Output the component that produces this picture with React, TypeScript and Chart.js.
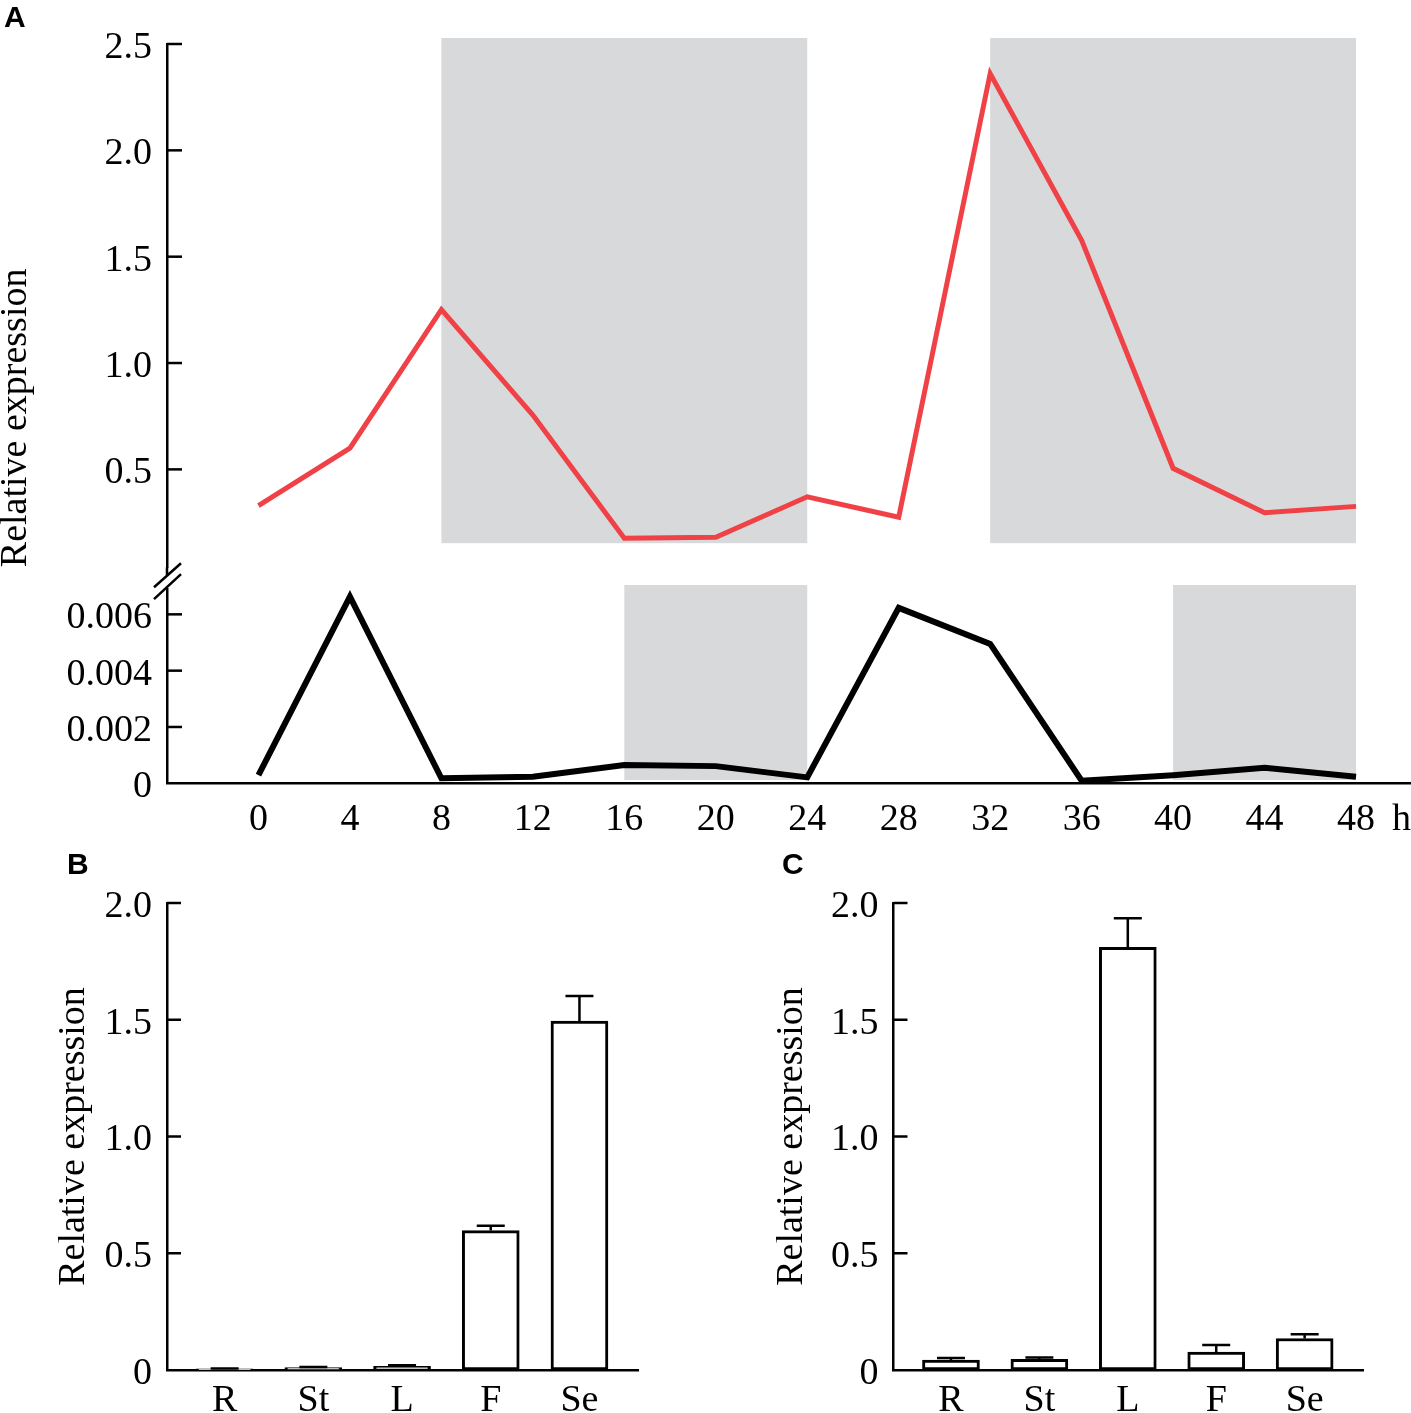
import { useEffect, useRef } from "react";
import Chart from "chart.js/auto";

// panel A: diurnal time course (h)
const hours = [0, 4, 8, 12, 16, 20, 24, 28, 32, 36, 40, 44, 48];
const redValues = [0.329, 0.6, 1.251, 0.755, 0.176, 0.181, 0.371, 0.275, 2.361, 1.577, 0.505, 0.296, 0.326];
const blackValues = [0.00029, 0.00663, 0.00018, 0.00023, 0.00065, 0.00061, 0.00021, 0.00623, 0.00495, 0.00009, 0.00029, 0.00055, 0.00023];
const darkTop = [[8, 24], [32, 48]];
const darkBottom = [[16, 24], [40, 48]];
const topTicks = [0.5, 1.0, 1.5, 2.0, 2.5];
const bottomTicks = [0, 0.002, 0.004, 0.006];

// panels B and C: tissues
const tissues = ["R", "St", "L", "F", "Se"];
const barTicks = [0, 0.5, 1.0, 1.5, 2.0];
const valuesB = [0.005, 0.01, 0.016, 0.597, 1.494];
const errorsB = [0.001, 0.003, 0.004, 0.021, 0.108];
const valuesC = [0.043, 0.046, 1.81, 0.077, 0.135];
const errorsC = [0.008, 0.008, 0.125, 0.03, 0.018];

const SERIF = "'Liberation Serif', 'Times New Roman', serif";
const RED = "#ef4146";
const GREY = "#d8d9db";
const AXIS_W = 2.5;

const tickFont = { family: SERIF, size: 38 };

const bandsPlugin = (bands, topOff, bottomOff) => ({
  id: "bands",
  beforeDatasetsDraw(chart) {
    const { ctx, chartArea } = chart;
    const xs = chart.scales.x;
    ctx.save();
    ctx.fillStyle = GREY;
    const y1 = chartArea.top - topOff;
    const y2 = chartArea.bottom - bottomOff;
    bands.forEach(([a, b]) => {
      const x1 = xs.getPixelForValue(a);
      const x2 = xs.getPixelForValue(b);
      ctx.fillRect(x1, y1, x2 - x1, y2 - y1);
    });
    ctx.restore();
  },
});

const innerTicks = (len) => ({
  id: "innerTicks",
  afterDraw(chart) {
    const { ctx, chartArea } = chart;
    const ys = chart.scales.y;
    ctx.save();
    ctx.strokeStyle = "#000";
    ctx.lineWidth = AXIS_W;
    ys.ticks.forEach((t) => {
      if (t.value === 0) return;
      const y = ys.getPixelForValue(t.value);
      ctx.beginPath();
      ctx.moveTo(chartArea.left, y);
      ctx.lineTo(chartArea.left + len, y);
      ctx.stroke();
    });
    ctx.restore();
  },
});

const breakMarks = {
  id: "breakMarks",
  afterDraw(chart) {
    const { ctx, chartArea } = chart;
    const l = chartArea.left;
    const b = chartArea.bottom;
    ctx.save();
    ctx.strokeStyle = "#000";
    ctx.lineWidth = AXIS_W;
    ctx.beginPath();
    ctx.moveTo(l, b);
    ctx.lineTo(l, b + 8);
    ctx.moveTo(l - 13, b + 20);
    ctx.lineTo(l + 14, b - 4);
    ctx.moveTo(l - 13, b + 32);
    ctx.lineTo(l + 14, b + 7);
    ctx.stroke();
    ctx.restore();
  },
};

const hourUnit = {
  id: "hourUnit",
  afterDraw(chart) {
    const xs = chart.scales.x;
    const { ctx } = chart;
    const items = xs.getLabelItems ? xs.getLabelItems() : [];
    const last = items[items.length - 1];
    if (!last) return;
    const [x, y] = last.options.translation;
    ctx.save();
    ctx.font = `38px ${SERIF}`;
    ctx.fillStyle = "#000";
    ctx.textAlign = "left";
    ctx.textBaseline = last.options.textBaseline || "middle";
    ctx.fillText("h", x + 36, y + (last.textOffset || 0));
    ctx.restore();
  },
};

const errorBars = (errors) => ({
  id: "errorBars",
  afterDatasetsDraw(chart) {
    const { ctx } = chart;
    const ys = chart.scales.y;
    const meta = chart.getDatasetMeta(0);
    ctx.save();
    ctx.strokeStyle = "#000";
    ctx.lineWidth = AXIS_W;
    meta.data.forEach((bar, i) => {
      const v = chart.data.datasets[0].data[i].y;
      const yTop = ys.getPixelForValue(v + errors[i]);
      const yBar = ys.getPixelForValue(v);
      ctx.beginPath();
      ctx.moveTo(bar.x, yBar);
      ctx.lineTo(bar.x, yTop);
      ctx.moveTo(bar.x - 14, yTop);
      ctx.lineTo(bar.x + 14, yTop);
      ctx.stroke();
    });
    ctx.restore();
  },
});

const baseOptions = {
  animation: false,
  responsive: false,
  devicePixelRatio: 1,
  events: [],
  plugins: { legend: { display: false }, tooltip: { enabled: false } },
};

const hourAxis = (display) => ({
  type: "linear",
  min: -4,
  max: 50.36,
  display,
  afterBuildTicks: (s) => {
    s.ticks = hours.map((h) => ({ value: h }));
  },
  afterFit: (s) => {
    s.height = display ? 60 : 0;
  },
  grid: { display: false, drawTicks: false },
  border: { display: true, color: "#000", width: AXIS_W },
  ticks: { color: "#000", font: tickFont, padding: 14, maxRotation: 0, autoSkip: false, callback: (v) => String(v) },
});

const topConfig = () => ({
  type: "line",
  data: {
    datasets: [
      {
        data: hours.map((h, i) => ({ x: h, y: redValues[i] })),
        borderColor: RED,
        borderWidth: 5,
        pointRadius: 0,
        tension: 0,
        borderJoinStyle: "miter",
      },
    ],
  },
  options: {
    ...baseOptions,
    layout: { padding: { top: 44, right: 1, bottom: 33, left: 0 } },
    scales: {
      x: hourAxis(false),
      y: {
        min: 0.04,
        max: 2.5,
        afterFit: (s) => {
          s.width = 167;
        },
        afterBuildTicks: (s) => {
          s.ticks = topTicks.map((v) => ({ value: v }));
        },
        grid: { display: false, drawTicks: false },
        border: { display: true, color: "#000", width: AXIS_W },
        ticks: { color: "#000", font: tickFont, padding: 15, labelOffset: 4, callback: (v) => Number(v).toFixed(1) },
        title: {
          display: true,
          text: "Relative expression",
          align: "start",
          color: "#000",
          font: { family: SERIF, size: 38, lineHeight: 1 },
          padding: { top: -3, bottom: 0 },
        },
      },
    },
  },
  plugins: [bandsPlugin(darkTop, 6, 24), innerTicks(15), breakMarks],
});

const bottomConfig = () => ({
  type: "line",
  data: {
    datasets: [
      {
        data: hours.map((h, i) => ({ x: h, y: blackValues[i] })),
        borderColor: "#000",
        borderWidth: 6,
        pointRadius: 0,
        tension: 0,
        borderJoinStyle: "miter",
      },
    ],
  },
  options: {
    ...baseOptions,
    layout: { padding: { top: 39, right: 1, bottom: 16.7, left: 0 } },
    scales: {
      x: hourAxis(true),
      y: {
        min: 0,
        max: 0.0069,
        afterFit: (s) => {
          s.width = 167;
        },
        afterBuildTicks: (s) => {
          s.ticks = bottomTicks.map((v) => ({ value: v }));
        },
        grid: { display: false, drawTicks: false },
        border: { display: true, color: "#000", width: AXIS_W },
        ticks: {
          color: "#000",
          font: tickFont,
          padding: 15,
          labelOffset: 4,
          callback: (v) => (v === 0 ? "0" : Number(v).toFixed(3)),
        },
      },
    },
  },
  plugins: [bandsPlugin(darkBottom, 4, 3.3), innerTicks(15), hourUnit],
});

const barConfig = (values, errors, yWidth, padRight) => ({
  type: "bar",
  data: {
    datasets: [
      {
        data: tissues.map((_, i) => ({ x: i, y: values[i] })),
        backgroundColor: "#fff",
        borderColor: "#000",
        borderWidth: 3,
        borderSkipped: false,
        barThickness: 57,
      },
    ],
  },
  options: {
    ...baseOptions,
    layout: { padding: { top: 43, right: padRight, bottom: 0, left: 0 } },
    scales: {
      x: {
        type: "linear",
        offset: false,
        min: -0.65,
        max: 4.66,
        afterBuildTicks: (s) => {
          s.ticks = tissues.map((_, i) => ({ value: i }));
        },
        afterFit: (s) => {
          s.height = 43;
        },
        grid: { display: false, drawTicks: false },
        border: { display: true, color: "#000", width: AXIS_W },
        ticks: { color: "#000", font: tickFont, padding: 8, maxRotation: 0, autoSkip: false, callback: (v) => tissues[v] ?? "" },
      },
      y: {
        min: 0,
        max: 2,
        afterFit: (s) => {
          s.width = yWidth;
        },
        afterBuildTicks: (s) => {
          s.ticks = barTicks.map((v) => ({ value: v }));
        },
        grid: { display: false, drawTicks: false },
        border: { display: true, color: "#000", width: AXIS_W },
        ticks: {
          color: "#000",
          font: tickFont,
          padding: 15,
          labelOffset: 4,
          callback: (v) => (v === 0 ? "0" : Number(v).toFixed(1)),
        },
        title: {
          display: true,
          text: "Relative expression",
          align: "center",
          color: "#000",
          font: { family: SERIF, size: 38, lineHeight: 1 },
          padding: { top: -3, bottom: 0 },
        },
      },
    },
  },
  plugins: [innerTicks(14), errorBars(errors)],
});

function ChartCanvas({ left, top, width, height, makeConfig }) {
  const canvasRef = useRef(null);

  useEffect(() => {
    const chart = new Chart(canvasRef.current.getContext("2d"), makeConfig());
    return () => chart.destroy();
  }, []);

  return (
    <canvas
      ref={canvasRef}
      width={width}
      height={height}
      style={{ position: "absolute", left, top, width, height }}
    />
  );
}

const letterStyle = {
  position: "absolute",
  fontFamily: "'Liberation Sans', Arial, sans-serif",
  fontWeight: "bold",
  fontSize: 30,
  lineHeight: 1,
  color: "#000",
};

export default function App() {
  return (
    <div
      style={{
        position: "absolute",
        left: 0,
        top: 0,
        width: 1411,
        height: 1413,
        overflow: "hidden",
        background: "#fff",
      }}
    >
      <ChartCanvas left={0} top={550} width={1411} height={310} makeConfig={bottomConfig} />
      <ChartCanvas left={0} top={0} width={1411} height={605} makeConfig={topConfig} />
      <ChartCanvas left={58} top={860} width={600} height={553} makeConfig={() => barConfig(valuesB, errorsB, 109, 20)} />
      <ChartCanvas left={776} top={860} width={620} height={553} makeConfig={() => barConfig(valuesC, errorsC, 117.5, 33)} />
      <div style={{ ...letterStyle, left: 4, top: 2 }}>A</div>
      <div style={{ ...letterStyle, left: 67, top: 849 }}>B</div>
      <div style={{ ...letterStyle, left: 782, top: 849 }}>C</div>
    </div>
  );
}
